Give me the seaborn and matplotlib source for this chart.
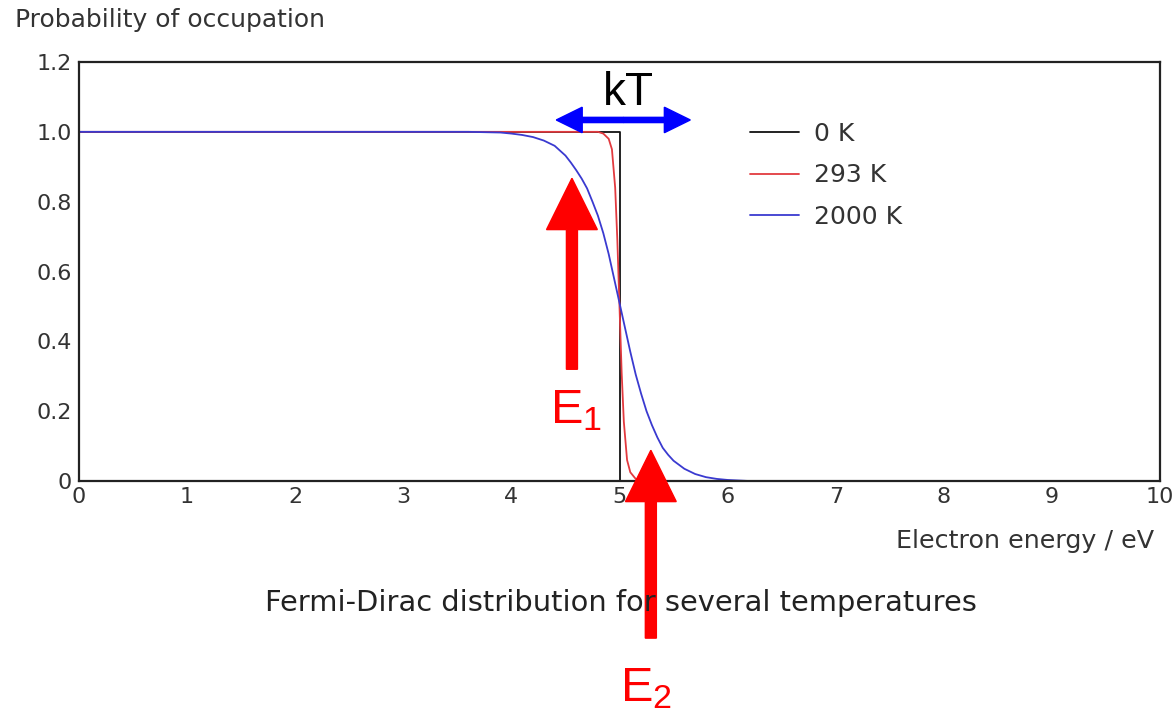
import numpy as np
import pandas as pd
import matplotlib
matplotlib.use("Agg")
import matplotlib.pyplot as plt
import seaborn as sns

# ---- data ----
energy_0K = [0.0, 5.0, 5.0, 10.0]
occ_0K = [1.0, 1.0, 0.0, 0.0]

energy_293K = [0.0, 4.8, 4.85, 4.9, 4.93, 4.96, 4.98, 5.0, 5.02, 5.04, 5.07, 5.1, 5.15, 5.2, 10.0]
occ_293K = [1.0, 1.0, 0.995, 0.98, 0.95, 0.84, 0.69, 0.5, 0.31, 0.17, 0.06, 0.025, 0.006, 0.0, 0.0]

energy_2000K = [0.0, 3.6, 3.9, 4.0, 4.1, 4.2, 4.3, 4.4, 4.5, 4.55, 4.6, 4.65, 4.7, 4.75,
                4.8, 4.85, 4.9, 4.95, 5.0, 5.05, 5.1, 5.15, 5.2, 5.25, 5.3, 5.35,
                5.4, 5.45, 5.5, 5.6, 5.7, 5.8, 5.9, 6.0, 6.2, 10.0]
occ_2000K = [1.0, 1.0, 0.998, 0.995, 0.991, 0.985, 0.975, 0.96, 0.932, 0.912, 0.89,
             0.866, 0.838, 0.80, 0.76, 0.71, 0.65, 0.58, 0.51, 0.44, 0.37, 0.305,
             0.25, 0.20, 0.16, 0.125, 0.095, 0.075, 0.058, 0.035, 0.02, 0.011, 0.006,
             0.003, 0.0, 0.0]

series_labels = ["0 K", "293 K", "2000 K"]
series_colors = ["#111111", "#e23a3f", "#3a3ad0"]

y_ticks = [0, 0.2, 0.4, 0.6, 0.8, 1.0, 1.2]
y_tick_labels = ["0", "0.2", "0.4", "0.6", "0.8", "1.0", "1.2"]
x_ticks = list(range(0, 11))
x_tick_labels = [str(v) for v in x_ticks]

frames = []
for lab, xs, ys in zip(series_labels,
                       [energy_0K, energy_293K, energy_2000K],
                       [occ_0K, occ_293K, occ_2000K]):
    frames.append(pd.DataFrame({"energy": xs, "occ": ys, "T": lab}))
df = pd.concat(frames, ignore_index=True)

sns.set_style("white")
plt.rcParams["font.family"] = ["DejaVu Sans"]
plt.rcParams["mathtext.default"] = "regular"
annot_font = ["Liberation Sans", "DejaVu Sans"]

fig = plt.figure(figsize=(11.74, 7.17), dpi=100)
ax = fig.add_axes([79 / 1174, 1 - 481 / 717, (1160 - 79) / 1174, (481 - 62) / 717])

sns.lineplot(data=df, x="energy", y="occ", hue="T", hue_order=series_labels,
             palette=dict(zip(series_labels, series_colors)),
             estimator=None, sort=False, linewidth=1.3, ax=ax)

ax.set_xlim(0, 10)
ax.set_ylim(0, 1.2)
ax.set_xticks(x_ticks)
ax.set_xticklabels(x_tick_labels)
ax.set_yticks(y_ticks)
ax.set_yticklabels(y_tick_labels)
ax.tick_params(axis="both", length=0, labelsize=16, colors="#333333")
ax.tick_params(axis="x", pad=4)
ax.tick_params(axis="y", pad=5)
ax.set_xlabel("")
ax.set_ylabel("")
for sp in ax.spines.values():
    sp.set_visible(True)
    sp.set_color("#222222")
    sp.set_linewidth(1.6)

leg = ax.legend(loc="upper left", bbox_to_anchor=(0.621, 0.857), frameon=False,
                fontsize=18, handlelength=1.95, labelspacing=0.7, handletextpad=0.6,
                borderaxespad=0, borderpad=0)
for t in leg.get_texts():
    t.set_color("#333333")

# axis titles / caption
fig.text(15 / 1174, 1 - 20 / 717, "Probability of occupation", fontsize=18,
         color="#333333", ha="left", va="center")
fig.text(1154 / 1174, 1 - 541 / 717, "Electron energy / eV", fontsize=18.3,
         color="#333333", ha="right", va="center")
fig.text(621 / 1174, 1 - 603 / 717, "Fermi-Dirac distribution for several temperatures",
         fontsize=20.8, color="#222222", ha="center", va="center")

# kT double arrow
red = "#ff0000"
blue = "#0000ff"
for dx in (-0.62, 0.62):
    ax.arrow(5.035, 1.034, dx, 0, width=0.015, head_width=0.073, head_length=0.24,
             length_includes_head=True, color=blue, clip_on=False, zorder=5)
ax.text(5.08, 1.048, "kT", fontsize=33, ha="center", va="bottom", color="black",
        family=annot_font)

# E1 arrow
ax.arrow(4.56, 0.32, 0, 0.867 - 0.32, width=0.102, head_width=0.47, head_length=0.147,
         length_includes_head=True, color=red, clip_on=False, zorder=6)
ax.text(4.60, 0.2, "E$_1$", fontsize=35, ha="center", va="center", color=red,
        family=annot_font)

# E2 arrow
ax.arrow(5.29, -0.45, 0, 0.088 + 0.45, width=0.102, head_width=0.47, head_length=0.147,
         length_includes_head=True, color=red, clip_on=False, zorder=6)
ax.text(5.25, -0.595, "E$_2$", fontsize=35, ha="center", va="center", color=red,
        clip_on=False, family=annot_font)

fig.savefig("out.png", dpi=100, facecolor="white")
